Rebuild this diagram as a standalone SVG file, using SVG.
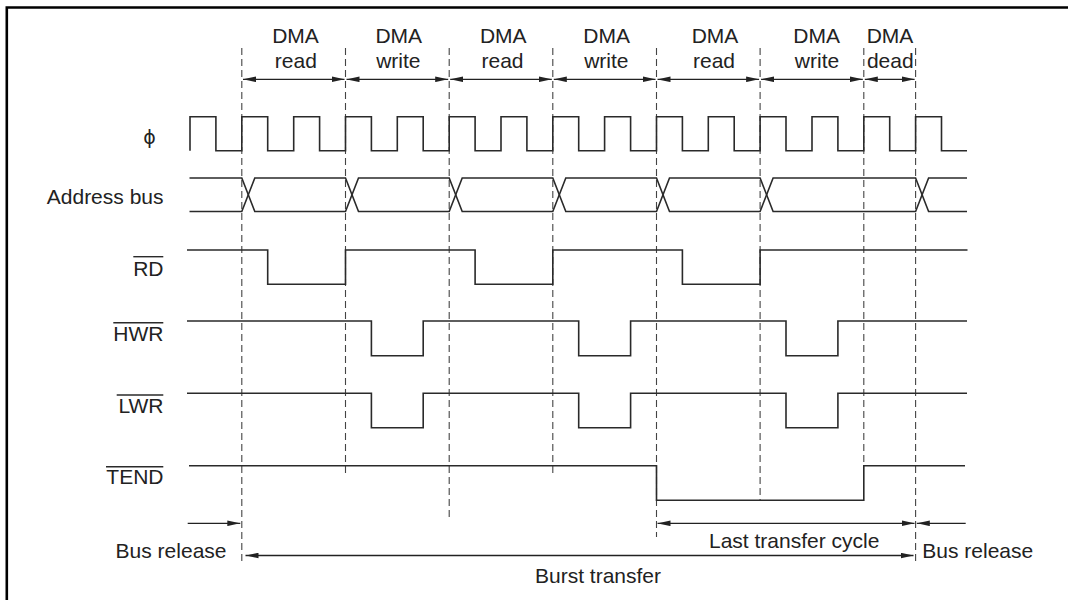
<svg xmlns="http://www.w3.org/2000/svg" width="1068" height="600" viewBox="0 0 1068 600">
<defs>
<style>
.t{font-family:"Liberation Sans",Arial,Helvetica,sans-serif;font-size:21px;fill:#222}
.m{text-anchor:middle}
.e{text-anchor:end}
.sig{fill:none;stroke:#2a2a2a;stroke-width:1.6}
.ov{stroke:#2a2a2a;stroke-width:1.4}
.dash{fill:none;stroke:#444;stroke-width:1.1;stroke-dasharray:7 4}
.arr{fill:none;stroke:#222;stroke-width:1.3}
.a1{marker-end:url(#ah)}
.a2{marker-start:url(#ah);marker-end:url(#ah)}
</style>
<marker id="ah" viewBox="0 0 13 6" refX="13" refY="3" markerWidth="13" markerHeight="6" markerUnits="userSpaceOnUse" orient="auto-start-reverse">
<path d="M0,0.2 L13,3 L0,5.8 z" fill="#222"/>
</marker>
</defs>
<rect width="1068" height="600" fill="#fff"/>
<g id="frame">
<path d="M6.8,600 V7.5 H1068" fill="none" stroke="#000" stroke-width="2.6"/>
</g>

<g id="guides">
<path class="dash" d="M241.8,48 V564 M345.5,48 V476 M449.2,48 V521 M552.8,48 V476 M656.5,48 V537 M760.1,48 V500 M863.8,48 V466 M915.6,48 V564"/>
</g>

<g id="phase-labels">
<text class="t m" x="295.5" y="43.3">DMA</text><text class="t m" x="295.8" y="68.3">read</text>
<text class="t m" x="398.8" y="43.3">DMA</text><text class="t m" x="398.3" y="68.3">write</text>
<text class="t m" x="503.3" y="43.3">DMA</text><text class="t m" x="502.5" y="68.3">read</text>
<text class="t m" x="606.7" y="43.3">DMA</text><text class="t m" x="606.3" y="68.3">write</text>
<text class="t m" x="715" y="43.3">DMA</text><text class="t m" x="714" y="68.3">read</text>
<text class="t m" x="816.7" y="43.3">DMA</text><text class="t m" x="817" y="68.3">write</text>
<text class="t m" x="890" y="43.3">DMA</text><text class="t m" x="890.3" y="68.3">dead</text>
</g>

<g id="clock">
<text class="t m" x="149.5" y="143.7" style="font-size:19px;font-family:'DejaVu Sans','Liberation Sans',sans-serif">ϕ</text>
<path class="sig" d="M190,150.8 V116.7 H215.9 V150.8 H241.8 V116.7 H267.7 V150.8 H293.7 V116.7 H319.6 V150.8 H345.5 V116.7 H371.4 V150.8 H397.3 V116.7 H423.2 V150.8 H449.2 V116.7 H475.1 V150.8 H501 V116.7 H526.9 V150.8 H552.8 V116.7 H578.7 V150.8 H604.6 V116.7 H630.6 V150.8 H656.5 V116.7 H682.4 V150.8 H708.3 V116.7 H734.2 V150.8 H760.1 V116.7 H786 V150.8 H812 V116.7 H837.9 V150.8 H863.8 V116.7 H889.7 V150.8 H915.6 V116.7 H941.5 V150.8 H967"/>
</g>

<g id="address-bus">
<text class="t e" x="163.5" y="204">Address bus</text>
<path class="sig" d="M189.5,178 H241.8 L254.8,211.5 H345.5 L358.5,178 H449.2 L462.2,211.5 H552.8 L565.8,178 H656.5 L669.5,211.5 H760.1 L773.1,178 H915.6 L928.6,211.5 H967"/>
<path class="sig" d="M189.5,211.5 H241.8 L254.8,178 H345.5 L358.5,211.5 H449.2 L462.2,178 H552.8 L565.8,211.5 H656.5 L669.5,178 H760.1 L773.1,211.5 H915.6 L928.6,178 H967"/>
</g>

<g id="rd">
<text class="t e" x="163.5" y="275.7">RD</text>
<line class="ov" x1="133.3" y1="256.7" x2="163.3" y2="256.7"/>
<path class="sig" d="M187,250 H267.7 V284.3 H345.5 V250 H475.1 V284.3 H552.8 V250 H682.4 V284.3 H760.1 V250 H967.5"/>
</g>

<g id="hwr">
<text class="t e" x="163.5" y="340.7">HWR</text>
<line class="ov" x1="113.3" y1="322.7" x2="163.3" y2="322.7"/>
<path class="sig" d="M187,321 H371.4 V355.7 H423.2 V321 H578.7 V355.7 H630.6 V321 H786 V355.7 H837.9 V321 H967"/>
</g>

<g id="lwr">
<text class="t e" x="163.5" y="412.7">LWR</text>
<line class="ov" x1="116.7" y1="395" x2="163.3" y2="395"/>
<path class="sig" d="M187,393.3 H371.4 V427.7 H423.2 V393.3 H578.7 V427.7 H630.6 V393.3 H786 V427.7 H837.9 V393.3 H967"/>
</g>

<g id="tend">
<text class="t e" x="163.5" y="484.3">TEND</text>
<line class="ov" x1="106" y1="466.7" x2="163.3" y2="466.7"/>
<path class="sig" d="M189,465.7 H656.5 V500.3 H863.8 V465.7 H965"/>
</g>

<g id="connectors">
<line class="arr a2" x1="243" y1="79.3" x2="344.5" y2="79.3"/>
<line class="arr a2" x1="346.5" y1="79.3" x2="448.2" y2="79.3"/>
<line class="arr a2" x1="450.2" y1="79.3" x2="551.8" y2="79.3"/>
<line class="arr a2" x1="553.8" y1="79.3" x2="655.5" y2="79.3"/>
<line class="arr a2" x1="657.5" y1="79.3" x2="759.1" y2="79.3"/>
<line class="arr a2" x1="761.1" y1="79.3" x2="862.8" y2="79.3"/>
<line class="arr a2" x1="864.8" y1="79.3" x2="914.6" y2="79.3"/>
<line class="arr a1" x1="187.7" y1="523.3" x2="240.3" y2="523.3"/>
<line class="arr a2" x1="657.5" y1="523.3" x2="914.5" y2="523.3"/>
<line class="arr a1" x1="965.7" y1="523.3" x2="916.8" y2="523.3"/>
<line class="arr a2" x1="245.5" y1="555.5" x2="913.5" y2="555.5"/>
</g>

<g id="bottom-labels">
<text class="t" x="115.6" y="558.3">Bus release</text>
<text class="t" x="709" y="548">Last transfer cycle</text>
<text class="t" x="922.3" y="557.5">Bus release</text>
<text class="t" x="535" y="582.5">Burst transfer</text>
</g>
</svg>
